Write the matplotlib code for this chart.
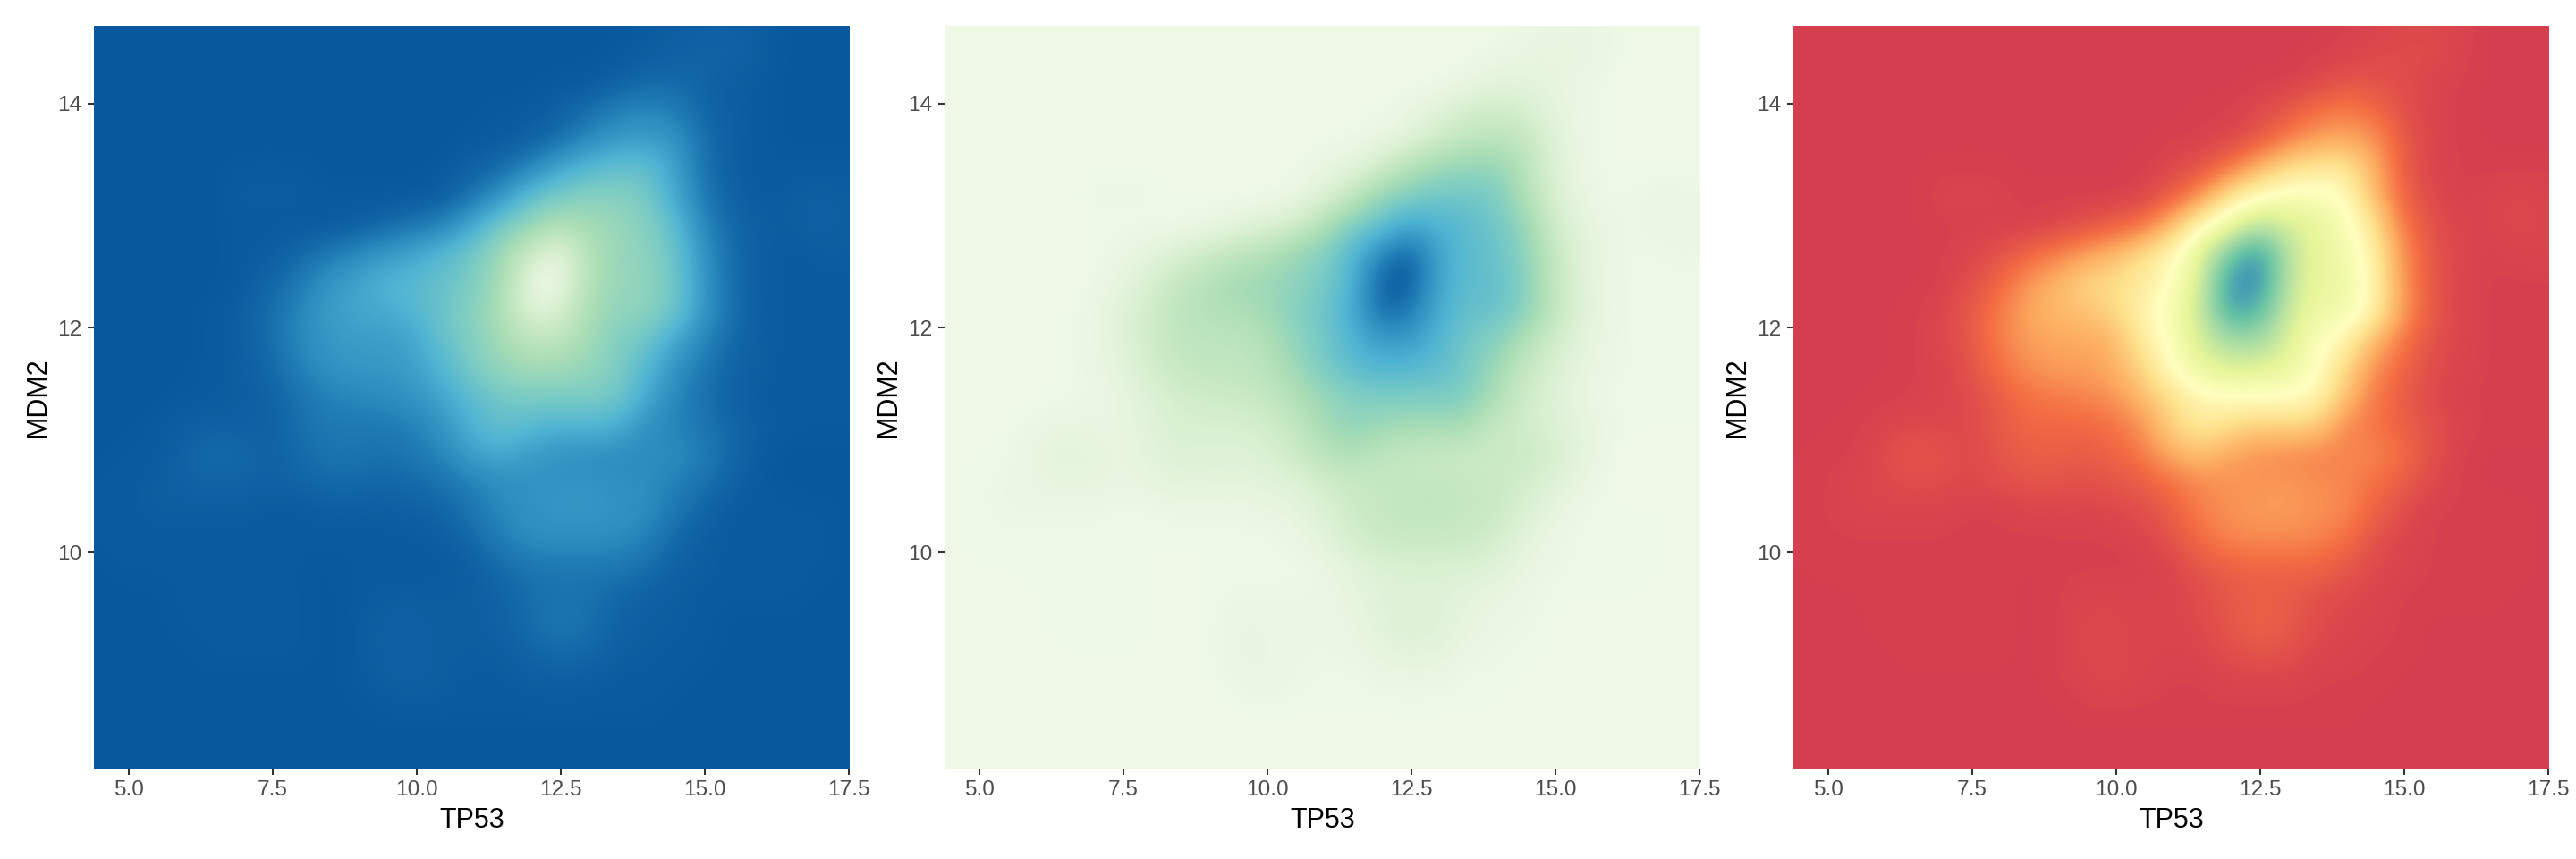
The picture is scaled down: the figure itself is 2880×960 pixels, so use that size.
import numpy as np
import matplotlib
matplotlib.use("Agg")
import matplotlib.pyplot as plt
from matplotlib.colors import LinearSegmentedColormap

plt.rcParams['font.family'] = ['Liberation Sans', 'DejaVu Sans']

# density (percent of maximum); top row first, 27 x 27
density_pct = np.array([
 [0,0,0,0,0,0,0,0,0,0,0,0,0,0,0,0,0,0,0,1,2,3,3,2,0,0,0],
 [0,0,0,0,0,0,0,0,0,0,0,0,0,0,0,0,0,0,1,2,3,4,4,2,0,0,0],
 [0,0,0,0,0,0,0,0,0,0,0,0,0,0,0,0,1,1,3,6,6,4,2,1,0,0,0],
 [0,0,0,0,0,0,0,0,0,0,0,0,0,0,1,1,3,7,13,16,12,5,2,1,0,0,0],
 [0,0,0,0,0,0,0,0,0,0,0,0,0,1,1,3,7,16,23,25,21,7,2,1,0,0,0],
 [0,0,0,0,0,1,1,1,0,0,0,0,1,3,6,14,28,38,42,42,26,8,2,1,1,1,1],
 [0,0,0,0,0,2,2,2,1,1,1,1,2,8,20,41,50,55,54,50,29,10,3,1,2,3,2],
 [0,0,0,0,0,1,1,1,1,2,5,9,13,29,49,60,73,66,62,54,40,14,5,2,2,3,2],
 [0,0,0,0,0,1,2,5,10,16,22,28,38,47,63,85,98,73,60,57,44,19,6,2,1,2,2],
 [0,0,0,0,0,1,4,10,20,27,35,38,42,50,66,97,100,72,60,59,46,20,6,2,1,1,1],
 [0,0,0,0,1,2,7,14,24,28,30,35,45,55,68,94,90,69,58,57,45,21,7,2,1,1,1],
 [0,0,0,0,1,2,6,15,22,24,24,27,42,52,66,76,77,65,52,46,28,14,5,2,1,1,1],
 [0,0,0,0,1,2,5,12,19,22,22,25,35,50,60,65,63,60,52,36,19,10,4,2,1,1,1],
 [0,0,0,1,1,2,3,8,13,15,17,20,28,38,47,49,50,50,47,30,15,8,3,1,1,1,1],
 [0,0,1,2,3,3,3,7,11,11,11,13,20,34,42,38,33,35,33,18,14,9,5,2,1,1,1],
 [0,1,1,3,7,6,3,6,9,9,8,10,15,25,30,23,20,18,17,17,18,12,5,1,0,0,0],
 [1,1,2,3,4,4,3,4,6,6,5,6,8,13,18,20,20,21,19,18,13,8,3,1,0,0,0],
 [1,1,2,2,2,2,1,1,2,2,2,3,4,9,16,20,22,22,20,18,10,4,1,1,1,1,0],
 [1,1,1,1,1,1,1,1,1,1,1,1,2,5,12,17,18,18,17,13,5,2,1,1,1,1,0],
 [0,1,1,1,1,1,1,1,0,1,1,1,1,2,6,9,10,10,10,7,3,2,1,1,1,1,0],
 [0,0,0,1,1,1,1,1,0,1,2,2,2,2,4,7,9,8,5,3,2,1,1,1,1,0,0],
 [0,0,0,1,1,1,1,1,0,1,3,3,2,2,3,7,10,8,4,2,2,1,0,0,0,0,0],
 [0,0,0,0,1,1,1,1,0,1,3,3,2,2,2,4,6,5,2,2,1,1,0,0,0,0,0],
 [0,0,0,0,0,0,0,0,0,1,2,3,2,1,1,2,2,2,1,1,1,0,0,0,0,0,0],
 [0,0,0,0,0,0,0,0,0,0,1,1,1,1,1,1,1,1,1,1,0,0,0,0,0,0,0],
 [0,0,0,0,0,0,0,0,0,0,0,0,0,0,0,0,0,0,0,0,0,0,0,0,0,0,0],
 [0,0,0,0,0,0,0,0,0,0,0,0,0,0,0,0,0,0,0,0,0,0,0,0,0,0,0],
], dtype=float)

x_range = (4.4, 17.52)
y_range = (8.07, 14.69)
x_ticks = [5.0, 7.5, 10.0, 12.5, 15.0, 17.5]
x_tick_labels = ["5.0", "7.5", "10.0", "12.5", "15.0", "17.5"]
y_ticks = [10, 12, 14]
y_tick_labels = ["10", "12", "14"]
x_name = "TP53"
y_name = "MDM2"

gnbu = ["#F0F9E8", "#CCEBC5", "#A8DDB5", "#7BCCC4", "#4EB3D3", "#2B8CBE", "#08589E"]
spectral = ["#D53E4F", "#F46D43", "#FDAE61", "#FEE08B", "#FFFFBF",
            "#E6F598", "#ABDDA4", "#66C2A5", "#3288BD"]
palettes = [gnbu[::-1], gnbu, spectral]
panel_left_px = [105, 1056, 2005]

W, H = 2880, 960
fig = plt.figure(figsize=(W / 200, H / 200), dpi=200, facecolor="white")
z = density_pct / 100.0
ny, nx = z.shape
dx = (x_range[1] - x_range[0]) / (nx - 1)
dy = (y_range[1] - y_range[0]) / (ny - 1)

for left, colors in zip(panel_left_px, palettes):
    ax = fig.add_axes([left / W, (H - 859) / H, 845 / W, 830 / H])
    cmap = LinearSegmentedColormap.from_list("c", colors, N=256)
    ax.imshow(z, cmap=cmap, vmin=0, vmax=1, aspect="auto", interpolation="bicubic",
              extent=(x_range[0] - dx / 2, x_range[1] + dx / 2,
                      y_range[0] - dy / 2, y_range[1] + dy / 2))
    ax.set_xlim(*x_range)
    ax.set_ylim(*y_range)
    ax.set_xticks(x_ticks, x_tick_labels)
    ax.set_yticks(y_ticks, y_tick_labels)
    ax.tick_params(length=2.6, width=0.75, color="#333333", labelcolor="#4D4D4D",
                   labelsize=8.8, pad=2.2)
    ax.set_xlabel(x_name, fontsize=11, color="black", labelpad=2.6)
    ax.set_ylabel(y_name, fontsize=11, color="black", labelpad=2.4)
    for s in ax.spines.values():
        s.set_visible(False)

fig.savefig("out.png", dpi=200)
